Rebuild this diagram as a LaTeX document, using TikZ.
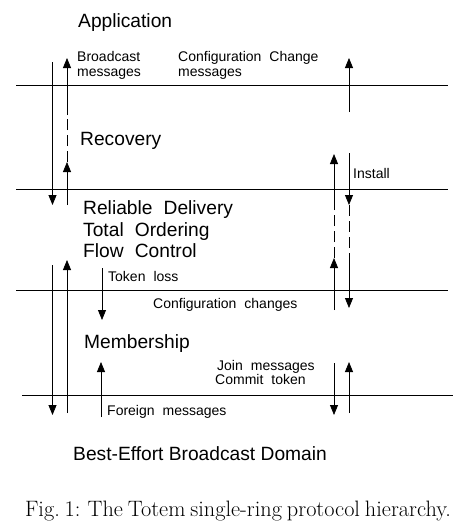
\documentclass[tikz,border=0pt]{standalone}
\usepackage{fontspec}
\usetikzlibrary{arrows.meta}
\newfontfamily\helv{Liberation Sans}
\newcommand\layerfont{\helv\fontsize{19.2}{21}\selectfont\spaceskip=0.58em\relax}
\newcommand\msgfont{\helv\fontsize{14}{16}\selectfont\spaceskip=0.57em\relax}
\newcommand\capfont{\fontsize{22.3}{24}\selectfont\spaceskip=0.22em\relax}

\tikzset{
    layer/.style={line width=0.8pt},
    flow/.style={line width=0.8pt, -{Triangle[length=10pt,width=8pt]}},
    gap/.style={line width=0.8pt, dash pattern=on 11pt off 5pt},
    big/.style={anchor=base west, inner sep=0pt, font=\layerfont},
    small/.style={anchor=base west, inner sep=0pt, font=\msgfont},
}

\begin{document}
\begin{tikzpicture}[x=1pt, y=-1pt]
\useasboundingbox (0,0) rectangle (461,531);
% layer boundaries
\foreach \n/\y/\a/\b in {1/85.5/16/448, 2/189/16/448, 3/290.5/16/448, 4/395/22/453}
{
    \coordinate (l\n w) at (\a,\y);
    \coordinate (l\n e) at (\b,\y);
    \draw[layer] (l\n w) -- (l\n e);
}
% layer names
\node [big] (app) at (78,27) {Application};
\node [big] (rec) at (80,145) {Recovery};
\node [big] (rel) at (83,214) {Reliable Delivery};
\node [big] (tot) at (83,236) {Total Ordering};
\node [big] (flo) at (83,257) {Flow Control};
\node [big] (mem) at (84,348) {Membership};
\node [big, font=\helv\fontsize{19.2}{21}\selectfont] (beb) at (73,460) {Best-Effort Broadcast Domain};
% message labels
\node [small] (bc1) at (77,61) {Broadcast};
\node [small] (bc2) at (77,76) {messages};
\node [small] (cc1) at (178,61) {Configuration Change};
\node [small] (cc2) at (178,76) {messages};
\node [small] (ins) at (353,178) {Install};
\node [small] (tok) at (108,281) {Token loss};
\node [small] (cfg) at (153,308) {Configuration changes};
\node [small] (join) at (217,370) {Join messages};
\node [small] (com) at (215,384) {Commit token};
\node [small] (frn) at (107,415) {Foreign messages};
% plain arrows
\foreach \n/\x/\ya/\yb in {a/52.5/62/205, b/349/112/58, c/52.5/265/415, d/67/413/260,
    e/102/268/320, f/101/417/362, g/334/363/415, h/349/413/362}
{
    \coordinate (s\n) at (\x,\ya);
    \coordinate (t\n) at (\x,\yb);
    \draw[flow] (s\n) -- (t\n);
}
% arrows passing through a layer
\coordinate (p1) at (67,205);
\coordinate (p2) at (67,162);
\coordinate (p3) at (67,115);
\coordinate (p4) at (67,58);
\draw[flow] (p1) -- (p2);
\draw[gap] (p2) -- (p3);
\draw[flow] (p3) -- (p4);
\coordinate (q1) at (334,310);
\coordinate (q2) at (334,258);
\coordinate (q3) at (334,210);
\coordinate (q4) at (334,154);
\draw[flow] (q1) -- (q2);
\draw[gap] (q2) -- (q3);
\draw[flow] (q3) -- (q4);
\coordinate (r1) at (349,153);
\coordinate (r2) at (349,205);
\coordinate (r3) at (349,258);
\coordinate (r4) at (349,308);
\draw[flow] (r1) -- (r2);
\draw[gap] (r2) -- (r3);
\draw[flow] (r3) -- (r4);
% caption
\node [anchor=base, inner sep=0pt, font=\capfont] (cap) at (238,516)
    {Fig.~1: The Totem single-ring protocol hierarchy.};
\end{tikzpicture}
\end{document}
